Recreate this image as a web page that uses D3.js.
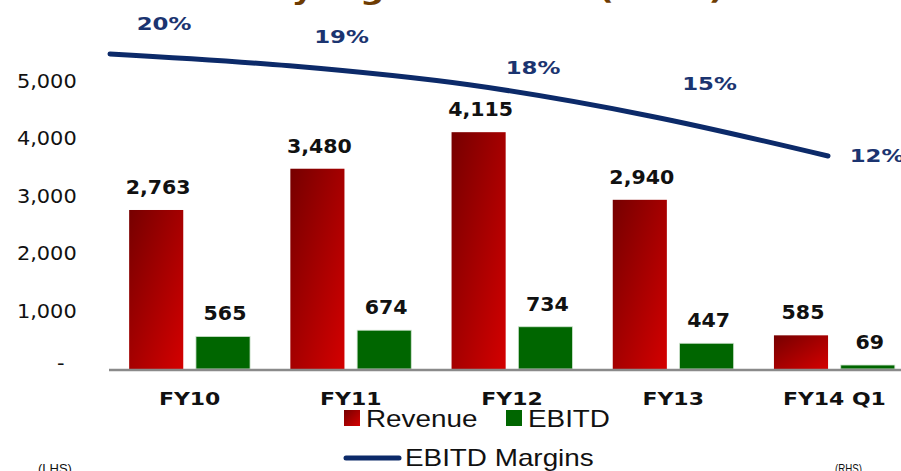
<!DOCTYPE html>
<html><head><meta charset="utf-8">
<script src="https://cdn.jsdelivr.net/npm/d3@7"></script>
<style>
body{margin:0;background:#fff}
svg{display:block}
.tick-l{font-family:"DejaVu Sans";font-size:19px;fill:#111}
.val{font-family:"DejaVu Sans";font-weight:bold;font-size:19px;fill:#111}
.pct{font-family:"DejaVu Sans";font-weight:bold;font-size:18px;fill:#1b3470}
.cat{font-family:"DejaVu Sans";font-weight:bold;font-size:18px;fill:#111}
.leg{font-family:"Liberation Sans";font-size:24px;fill:#111}
.side{font-family:"Liberation Sans";font-size:13px;fill:#111}
.title{font-family:"DejaVu Sans";font-weight:bold;font-size:26px;fill:#6e3c02}
</style>
</head><body>
<svg id="c" width="901" height="471"></svg>
<script>
// ---- data ----
const categories = ["FY10","FY11","FY12","FY13","FY14 Q1"];
const revenue = [2763,3480,4115,2940,585];
const ebitd = [565,674,734,447,69];
const margins = [20.4,19.4,17.8,15.2,11.8];
const yTicks = [0,1000,2000,3000,4000,5000];
const seriesNames = ["Revenue","EBITD"];
const lineName = "EBITD Margins";
const titleText = "Key Figures Trend (Rs cr)";
const sideLabels = ["(LHS)","(RHS)"];

// ---- layout / style ----
const pctLabelOffsets = [[54,-24],[52,-23],[64,-11],[61,-26],[49,6]];
const svg = d3.select("#c");
const defs = svg.append("defs");
const grad = defs.append("linearGradient").attr("id","redG")
  .attr("x1",0).attr("y1",0).attr("x2",1).attr("y2",1);
grad.append("stop").attr("offset","0%").attr("stop-color","#760000");
grad.append("stop").attr("offset","100%").attr("stop-color","#d40000");

const x0 = d3.scaleBand().domain(categories).range([109,915]).paddingInner(0.25).paddingOuter(0.125);
const x1 = d3.scaleBand().domain(seriesNames).range([0,x0.bandwidth()]).paddingInner(0.19);
const y = d3.scaleLinear().domain([0,5000]).range([369,81.25]);
const xl = d3.scalePoint().domain(categories).range([110,828]);
const y2 = d3.scaleLinear().domain([11.8,20.4]).range([156,54]);

function label(parent, x, yy, txt, cls, sx, anchor){
  return parent.append("text")
    .attr("transform",`translate(${x},${yy}) scale(${sx},1)`)
    .attr("text-anchor",anchor||"middle")
    .attr("class",cls).text(txt);
}

// title (mostly cut off above)
label(svg, 243, -1, titleText, "title", 1.3, "start");

// y axis
const yAxis = svg.append("g").attr("transform","translate(80,0)")
  .call(d3.axisLeft(y).tickValues(yTicks).tickSize(0).tickPadding(3)
    .tickFormat(d => d===0 ? "-" : d3.format(",")(d)));
yAxis.select(".domain").remove();
yAxis.selectAll("text").attr("class","tick-l").attr("font-family",null).attr("font-size",null)
  .attr("fill",null).attr("transform","scale(1.1,1)");
yAxis.selectAll(".tick").filter(d=>d===0).select("text").attr("x",-14).attr("dy","0.0em");

// bars
const groups = svg.append("g").selectAll("g").data(categories).join("g")
  .attr("transform", c => `translate(${x0(c)},0)`);
groups.append("rect")
  .attr("x", x1("Revenue")).attr("width", x1.bandwidth())
  .attr("y", (c,i)=>y(revenue[i])).attr("height",(c,i)=>y(0)-y(revenue[i]))
  .attr("fill","url(#redG)");
groups.append("rect")
  .attr("x", x1("EBITD")).attr("width", x1.bandwidth())
  .attr("y", (c,i)=>y(ebitd[i])).attr("height",(c,i)=>y(0)-y(ebitd[i]))
  .attr("fill","#006600").attr("stroke","#cfe3cf").attr("stroke-width",0.8);

// baseline
svg.append("line").attr("x1",109).attr("x2",901).attr("y1",y(0)+1).attr("y2",y(0)+1)
  .attr("stroke","#8a8a8a").attr("stroke-width",2.5);

// value labels
categories.forEach((c,i)=>{
  label(svg, x0(c)+x1("Revenue")+x1.bandwidth()/2+2, y(revenue[i])-16, d3.format(",")(revenue[i]), "val", 1.08);
  label(svg, x0(c)+x1("EBITD")+x1.bandwidth()/2+2, y(ebitd[i])-16, d3.format(",")(ebitd[i]), "val", 1.08);
  label(svg, x0(c)+x0.bandwidth()/2, 405, c, "cat", 1.22);
});

// margin line
const line = d3.line().x((d,i)=>xl(categories[i])).y(d=>y2(d)).curve(d3.curveCatmullRom);
svg.append("path").datum(margins).attr("d",line).attr("fill","none")
  .attr("stroke","#0c2a69").attr("stroke-width",5).attr("stroke-linecap","round");
margins.forEach((m,i)=>{
  const o = pctLabelOffsets[i];
  label(svg, xl(categories[i])+o[0], y2(m)+o[1], d3.format(".0f")(m)+"%", "pct", 1.27);
});

// legend
svg.append("rect").attr("x",344).attr("y",410).attr("width",16).attr("height",16).attr("fill","url(#redG)");
label(svg, 366, 427, seriesNames[0], "leg", 1.16, "start");
svg.append("rect").attr("x",506).attr("y",410).attr("width",16).attr("height",16).attr("fill","#006600");
label(svg, 528, 427, seriesNames[1], "leg", 1.16, "start");
svg.append("line").attr("x1",346).attr("x2",399).attr("y1",458).attr("y2",458)
  .attr("stroke","#0c2a69").attr("stroke-width",5).attr("stroke-linecap","round");
label(svg, 405, 466, lineName, "leg", 1.16, "start");

// side labels
label(svg, 38, 473, sideLabels[0], "side", 1.0, "start");
label(svg, 835, 473, sideLabels[1], "side", 0.75, "start");
</script>
</body></html>
